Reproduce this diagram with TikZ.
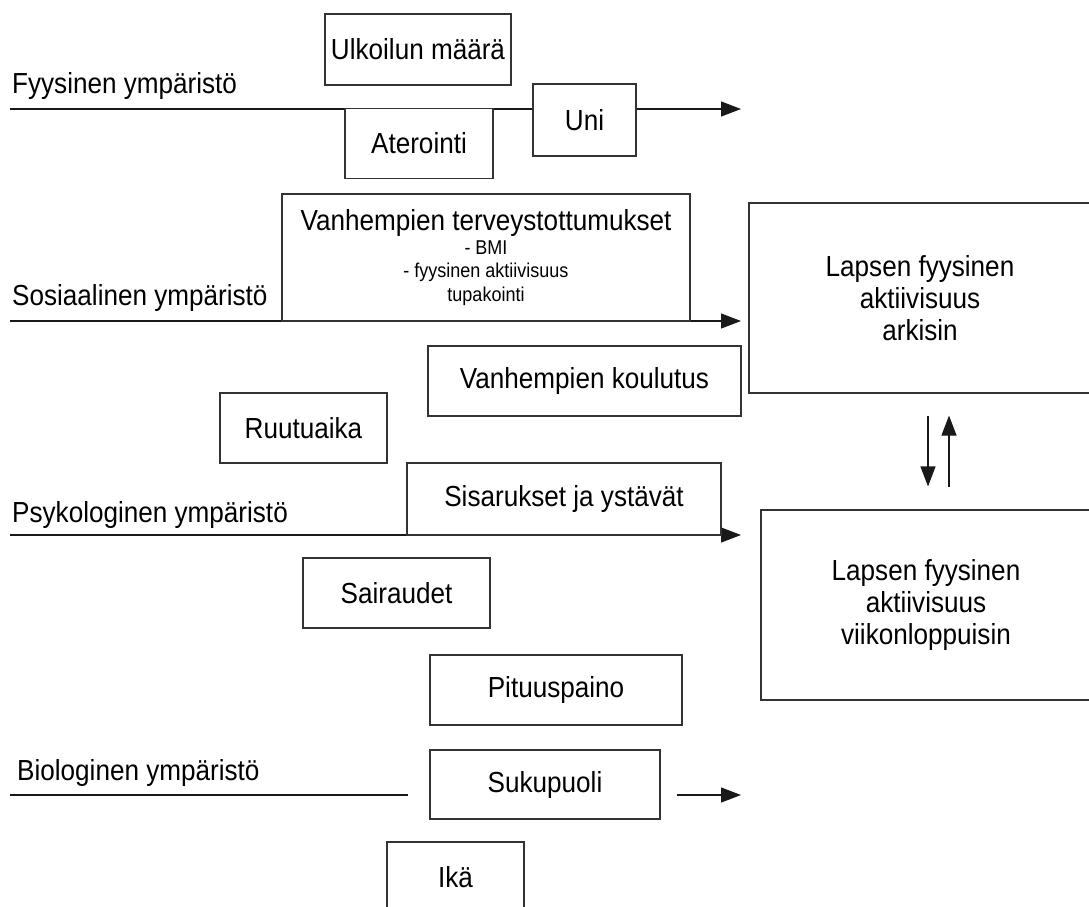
\documentclass[tikz,border=0pt]{standalone}
\usepackage{fontspec}
\setmainfont[FakeStretch=0.9]{Liberation Sans}
\usetikzlibrary{arrows.meta}

\begin{document}
\begin{tikzpicture}[x=1pt,y=-1pt,
  box/.style={draw=black!80,line width=1.1pt,inner sep=0pt,align=center,
    font=\fontsize{29}{32}\selectfont},
  env/.style={anchor=base west,inner sep=0pt,font=\fontsize{29}{32}\selectfont},
  flow/.style={draw=black!90,line width=1.1pt,-{Triangle[length=20pt,width=15pt]}},
  plain/.style={draw=black!90,line width=1.1pt}]
 \useasboundingbox (0,0) rectangle (1089,907);

 \node[env] (fys) at (12,93) {Fyysinen ympäristö};
 \node[env] (sos) at (12,305) {Sosiaalinen ympäristö};
 \node[env] (psy) at (12,522) {Psykologinen ympäristö};
 \node[env] (bio) at (17,780) {Biologinen ympäristö};

 \coordinate (fys-a) at (10,109);  \coordinate (fys-b) at (741,109);
 \coordinate (sos-a) at (10,321);  \coordinate (sos-b) at (741,321);
 \coordinate (psy-a) at (10,535);  \coordinate (psy-b) at (741,535);
 \coordinate (bio-a) at (10,795);  \coordinate (bio-b) at (408,795);
 \coordinate (bio-c) at (677,795); \coordinate (bio-d) at (741,795);

 \draw[flow] (fys-a) -- (fys-b);
 \draw[flow] (sos-a) -- (sos-b);
 \draw[flow] (psy-a) -- (psy-b);
 \draw[plain] (bio-a) -- (bio-b);
 \draw[flow] (bio-c) -- (bio-d);

 \node[box,fill=white,minimum width=186pt,minimum height=71pt] (ulk) at (418,49.5) {Ulkoilun määrä};
 \node[box,fill=white,minimum width=148pt,minimum height=70pt] (ate) at (419,143.5) {Aterointi};
 \node[box,fill=white,minimum width=103pt,minimum height=72pt] (uni) at (584.5,120) {Uni};
 \node[box,minimum width=408pt,minimum height=127pt,font=\fontsize{20}{23.5}\selectfont] (vht) at (486,257.5)
   {{\fontsize{29}{23.5}\selectfont Vanhempien terveystottumukset}\\- BMI\\- fyysinen aktiivisuus\\tupakointi};
 \node[box,minimum width=342pt,minimum height=190pt] (ark) at (920,298)
   {Lapsen fyysinen\\aktiivisuus\\arkisin};
 \node[box,minimum width=313pt,minimum height=70pt] (vko) at (584.5,381) {Vanhempien koulutus};
 \node[box,minimum width=167pt,minimum height=70pt] (ruu) at (303.5,428) {Ruutuaika};
 \node[box,minimum width=314pt,minimum height=72pt] (sis) at (564,499) {Sisarukset ja ystävät};
 \node[box,minimum width=330pt,minimum height=190pt] (vkl) at (926,605)
   {Lapsen fyysinen\\aktiivisuus\\viikonloppuisin};
 \node[box,minimum width=187pt,minimum height=70pt] (sai) at (396.5,593) {Sairaudet};
 \node[box,minimum width=252pt,minimum height=70pt] (pit) at (556,690) {Pituuspaino};
 \node[box,minimum width=230pt,minimum height=69pt] (suk) at (545,784.5) {Sukupuoli};
 \node[box,minimum width=137pt,minimum height=70pt] (ika) at (455.5,877) {Ikä};

 \draw[flow] ([xshift=8pt,yshift=-22pt]ark.south) -- ([xshift=2pt,yshift=23pt]vkl.north);
 \draw[flow] ([xshift=23pt,yshift=22pt]vkl.north) -- ([xshift=29pt,yshift=-22pt]ark.south);
\end{tikzpicture}
\end{document}
